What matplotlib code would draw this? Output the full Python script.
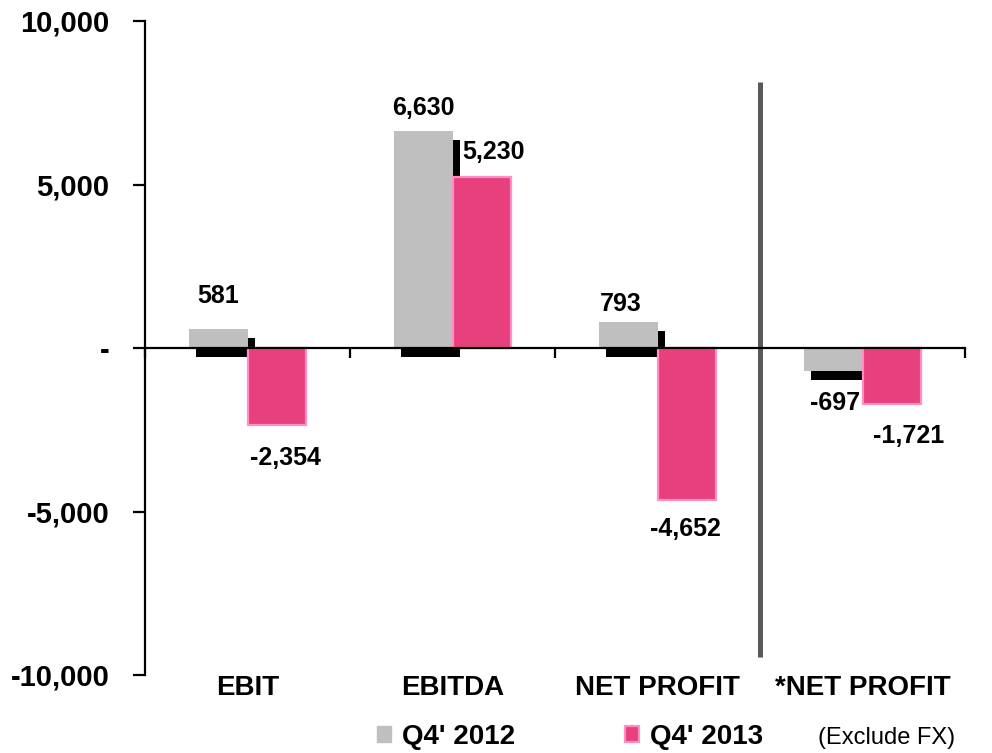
import matplotlib
matplotlib.use('Agg')
import matplotlib.pyplot as plt
import matplotlib.transforms as mtransforms
from matplotlib.patches import Patch
from matplotlib.ticker import FixedLocator, FuncFormatter

plt.rcParams['font.family'] = ['Liberation Sans', 'DejaVu Sans']

categories = ['EBIT', 'EBITDA', 'NET PROFIT', '*NET PROFIT']
q4_2012 = [581, 6630, 793, -697]
q4_2013 = [-2354, 5230, -4652, -1721]
series_names = ["Q4' 2012", "Q4' 2013"]
note = '(Exclude FX)'

# label nudges in pixels (dx, dy) from bar end
off_2012 = [(0, 33), (0, 23), (-8, 18), (2, -32)]
off_2013 = [(9, -33), (12, 25), (-1, -29), (17, -32)]

GREY = '#bfbfbf'
PINK = '#e8407c'
PINK_EDGE = '#ff8fc4'

fig = plt.figure(figsize=(9.92, 7.53), dpi=100)
ax = fig.add_axes([145/992, 1-675/753, 820/992, 654/753])

x = list(range(len(categories)))
w = 0.285
x1 = [i - w/2 for i in x]
x2 = [i + w/2 for i in x]

# drop shadow behind the grey bars
shadow_tr = mtransforms.offset_copy(ax.transData, fig=fig, x=7, y=-9, units='dots')
ax.bar(x1, q4_2012, width=w, color='black', transform=shadow_tr, zorder=1)
ax.bar(x1, q4_2012, width=w, color=GREY, zorder=2)
ax.bar(x2, q4_2013, width=w, color=PINK, edgecolor=PINK_EDGE, linewidth=1.6, zorder=3)

ax.set_xlim(-0.5, 3.5)
ax.set_ylim(-10000, 10000)

for sp in ['top', 'right']:
    ax.spines[sp].set_visible(False)
ax.spines['left'].set_linewidth(1.6)
ax.spines['bottom'].set_position(('data', 0))
ax.spines['bottom'].set_linewidth(1.6)
ax.spines['bottom'].set_zorder(5)

ax.xaxis.set_major_locator(FixedLocator([-0.5, 0.5, 1.5, 2.5, 3.5]))
ax.tick_params(axis='x', direction='out', length=7.2, width=1.6, labelbottom=False)

def fmt(v, pos):
    if v == 0:
        return '-'
    return f'{int(v):,}'

ax.yaxis.set_major_locator(FixedLocator([-10000, -5000, 0, 5000, 10000]))
ax.yaxis.set_major_formatter(FuncFormatter(fmt))
ax.tick_params(axis='y', direction='out', length=8.6, width=1.6, pad=17,
               labelsize=21)
for t in ax.get_yticklabels():
    t.set_fontweight('bold')

for i, name in enumerate(categories):
    ax.annotate(name, xy=(i, 0), xycoords=('data', 'axes fraction'),
                xytext=(0, -13), textcoords='offset pixels',
                ha='center', va='center', fontsize=20, fontweight='bold')

for i in x:
    ax.annotate(f'{q4_2012[i]:,}', xy=(x1[i], q4_2012[i]), xytext=off_2012[i],
                textcoords='offset pixels', ha='center', va='center',
                fontsize=18, fontweight='bold', zorder=6)
    ax.annotate(f'{q4_2013[i]:,}', xy=(x2[i], q4_2013[i]), xytext=off_2013[i],
                textcoords='offset pixels', ha='center', va='center',
                fontsize=18, fontweight='bold', zorder=6)

# divider before the FX-excluded group
ax.plot([2.5, 2.5], [8130, -9450], color='#595959', linewidth=3.6, zorder=4,
        solid_capstyle='butt')

handles = [Patch(facecolor=GREY, edgecolor=GREY),
           Patch(facecolor=PINK, edgecolor=PINK_EDGE, linewidth=1.6)]
fig.legend(handles, series_names, loc='center left',
           bbox_to_anchor=(377/992, 1-737/753), ncol=2, frameon=False,
           prop={'size': 20, 'weight': 'bold'}, handlelength=0.5,
           handleheight=0.5, handletextpad=0.4, columnspacing=3.95,
           borderaxespad=0, borderpad=0)
fig.text(818/992, 1-738/753, note, fontsize=17, va='center', ha='left')

fig.savefig('out.png', dpi=100)
